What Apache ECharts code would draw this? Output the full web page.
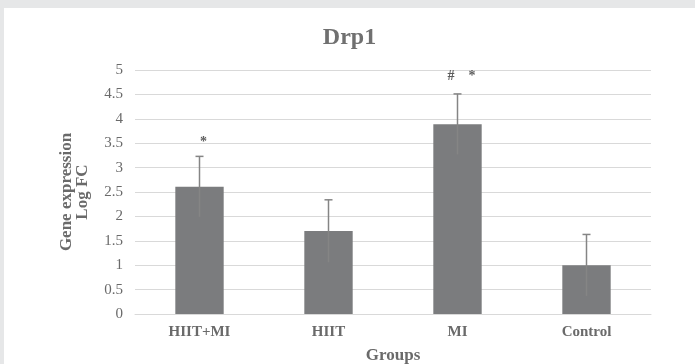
<!DOCTYPE html>
<html><head><meta charset="utf-8">
<script src="https://cdn.jsdelivr.net/npm/echarts@6/dist/echarts.min.js"></script>
<style>html,body{margin:0;padding:0;background:#fff;}
#wrap{position:absolute;left:0;top:0;width:695px;height:364px;background:#e6e7e8;}
#c{position:absolute;left:4px;top:8px;width:691px;height:356px;background:#fff;}</style>
</head><body><div id="wrap"><div id="c"></div></div>
<script>
var categories = ['HIIT+MI', 'HIIT', 'MI', 'Control'];
var means = [2.61, 1.70, 3.89, 1.00];
var errors = [0.62, 0.64, 0.62, 0.63];
var annotations = ['*', '', '#    *', ''];
var annotationY = [3.51, 0, 4.86, 0];
var yTicks = [0, 0.5, 1, 1.5, 2, 2.5, 3, 3.5, 4, 4.5, 5];

var font = '"Liberation Serif", "Times New Roman", serif';
var chart = echarts.init(document.getElementById('c'));
var errData = categories.map(function(c, i){ return [i, means[i] - errors[i], means[i] + errors[i]]; });
var annData = [];
categories.forEach(function(c, i){ if (annotations[i]) annData.push({value:[i, annotationY[i]], txt: annotations[i]}); });
chart.setOption({
  animation: false,
  title: {text: 'Drp1', left: 'center', top: 13,
    textStyle: {fontFamily: font, fontSize: 24, fontWeight: 'bold', color: '#707070'}},
  grid: {left: 131, right: 44, top: 62, bottom: 50, containLabel: false, outerBoundsMode: 'none'},
  xAxis: {type: 'category', data: categories,
    name: 'Groups', nameLocation: 'middle', nameGap: 33,
    nameTextStyle: {fontFamily: font, fontSize: 17, fontWeight: 'bold', color: '#6a6a6a'},
    axisLine: {lineStyle: {color: '#d9d9d9', width: 1}}, axisTick: {show: false},
    axisLabel: {fontFamily: font, fontSize: 15, fontWeight: 'bold', color: '#6a6a6a', margin: 11}},
  yAxis: {type: 'value', min: 0, max: 5, interval: 0.5,
    name: 'Gene expression\nLog FC', nameLocation: 'middle', nameGap: 44, nameRotate: 90,
    nameTextStyle: {fontFamily: font, fontSize: 17, fontWeight: 'bold', color: '#6a6a6a', lineHeight: 16},
    axisLine: {show: false}, axisTick: {show: false},
    axisLabel: {fontFamily: font, fontSize: 15, color: '#6a6a6a', margin: 12,
      formatter: function(v){ return yTicks.indexOf(v) >= 0 ? String(v) : ''; }},
    splitLine: {lineStyle: {color: '#d9d9d9', width: 1}}},
  series: [
    {type: 'bar', data: means, barWidth: '37.5%', itemStyle: {color: '#7b7c7e'}},
    {type: 'custom', data: errData, z: 10,
      renderItem: function(params, api){
        var x = api.value(0);
        var lo = api.coord([x, api.value(1)]);
        var hi = api.coord([x, api.value(2)]);
        var style = {stroke: '#858585', lineWidth: 1.5};
        return {type: 'group', children: [
          {type: 'line', shape: {x1: hi[0], y1: lo[1], x2: hi[0], y2: hi[1]}, style: style},
          {type: 'line', shape: {x1: hi[0] - 4, y1: hi[1], x2: hi[0] + 4, y2: hi[1]}, style: style}
        ]};
      }},
    {type: 'scatter', symbolSize: 0, data: annData.map(function(d){ return d.value; }),
      label: {show: true, position: 'inside', offset: [4, 0],
        formatter: function(p){ return annData[p.dataIndex].txt; },
        fontFamily: font, fontSize: 14, fontWeight: 'bold', color: '#333'}}
  ]
});
</script></body></html>
